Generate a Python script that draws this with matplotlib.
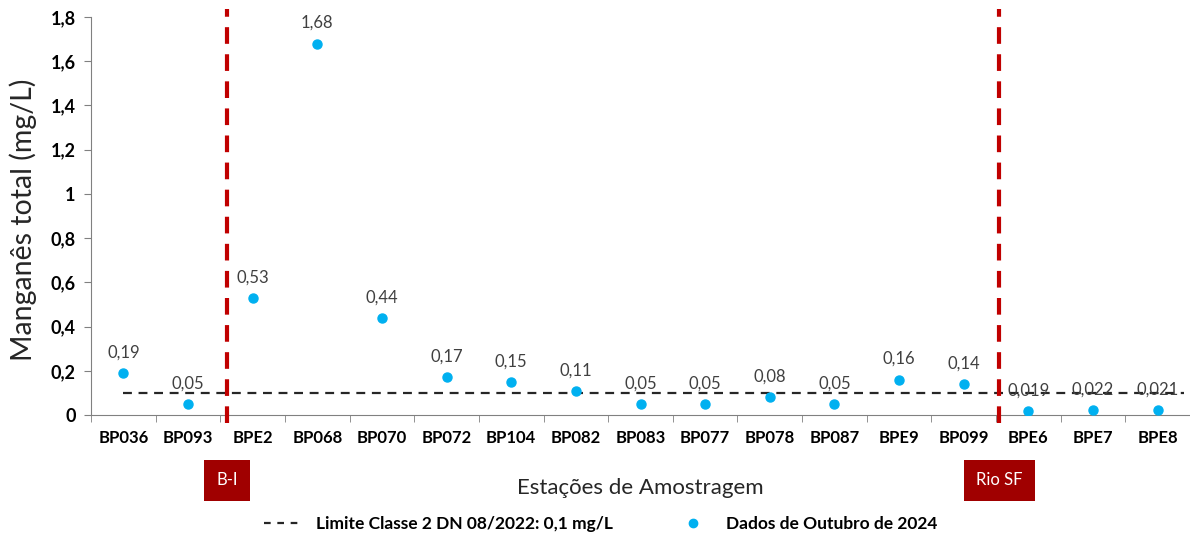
import numpy as np
import matplotlib.pyplot as plt
import matplotlib.ticker as ticker
from matplotlib.lines import Line2D

plt.rcParams['font.family'] = ['Lato', 'DejaVu Sans']

estacoes = ["BP036", "BP093", "BPE2", "BP068", "BP070", "BP072", "BP104", "BP082",
            "BP083", "BP077", "BP078", "BP087", "BPE9", "BP099", "BPE6", "BPE7", "BPE8"]
manganes = [0.19, 0.05, 0.53, 1.68, 0.44, 0.17, 0.15, 0.11,
            0.05, 0.05, 0.08, 0.05, 0.16, 0.14, 0.019, 0.022, 0.021]
rotulos = ["0,19", "0,05", "0,53", "1,68", "0,44", "0,17", "0,15", "0,11",
           "0,05", "0,05", "0,08", "0,05", "0,16", "0,14", "0,019", "0,022", "0,021"]
limite = 0.1
divisas = [1.6, 13.55]
divisas_txt = ["B-I", "Rio SF"]

fig = plt.figure(figsize=(11.9, 5.4), dpi=100)
ax = fig.add_axes([0.0765, 0.2315, 0.9235, 0.737])

x = np.arange(len(estacoes))
ax.plot(x, manganes, 'o', color='#00B0F0', markersize=6.5, zorder=3)
for xi, v, t in zip(x, manganes, rotulos):
    ax.annotate(t, (xi, v), xytext=(0, 9), textcoords='offset points',
                ha='center', va='bottom', fontsize=12, color='#404040')

ax.plot([0, 16.4], [limite, limite], '--', color='#262626', linewidth=1.6,
        dashes=(4, 3), zorder=2)

for d, txt in zip(divisas, divisas_txt):
    ax.axvline(d, ymin=-0.02, ymax=1.02, color='#C00000', linewidth=3,
               dashes=(4, 2.5), clip_on=False, zorder=4)
    ax.annotate(txt, (d, 0), xycoords=('data', 'axes fraction'), xytext=(0, -47),
                textcoords='offset points', ha='center', va='center',
                fontsize=12, color='white',
                bbox=dict(boxstyle='square,pad=0.75', fc='#A00000', ec='none'))

ax.set_xlim(-0.5, 16.5)
ax.set_ylim(0, 1.8)
ax.set_xticks(x)
ax.set_xticklabels(estacoes, fontsize=12, fontweight='bold')
ax.set_xticks(np.arange(-0.5, 17, 1), minor=True)
ax.tick_params(axis='x', which='major', length=0, pad=11)
ax.tick_params(axis='x', which='minor', length=5, color='#808080')
ax.set_yticks(np.arange(0, 1.81, 0.2))
ax.yaxis.set_major_formatter(ticker.FuncFormatter(
    lambda v, p: '{:g}'.format(round(v, 1)).replace('.', ',')))
ax.tick_params(axis='y', length=5, color='#808080', labelsize=13, pad=6)
for lab in ax.get_yticklabels():
    lab.set_fontweight('bold')

ax.spines['top'].set_visible(False)
ax.spines['right'].set_visible(False)
ax.spines['left'].set_color('#808080')
ax.spines['bottom'].set_color('#808080')

ax.set_xlabel("Estações de Amostragem", fontsize=16, color='#262626', labelpad=23)
ax.set_ylabel("Manganês total (mg/L)", fontsize=20.5, color='#262626')
ax.yaxis.set_label_coords(-0.049, 0.49)

handles = [Line2D([], [], color='#262626', linestyle='--', linewidth=1.6, dashes=(3, 3)),
           Line2D([], [], marker='o', color='#00B0F0', linestyle='none', markersize=6)]
fig.legend(handles, ["Limite Classe 2 DN 08/2022: 0,1 mg/L", "Dados de Outubro de 2024"],
           loc='center', bbox_to_anchor=(0.505, 0.03), ncol=2, frameon=False,
           prop={'weight': 'bold', 'size': 12.5}, columnspacing=3.5, handlelength=2.2)

fig.savefig("out.png", dpi=100)
